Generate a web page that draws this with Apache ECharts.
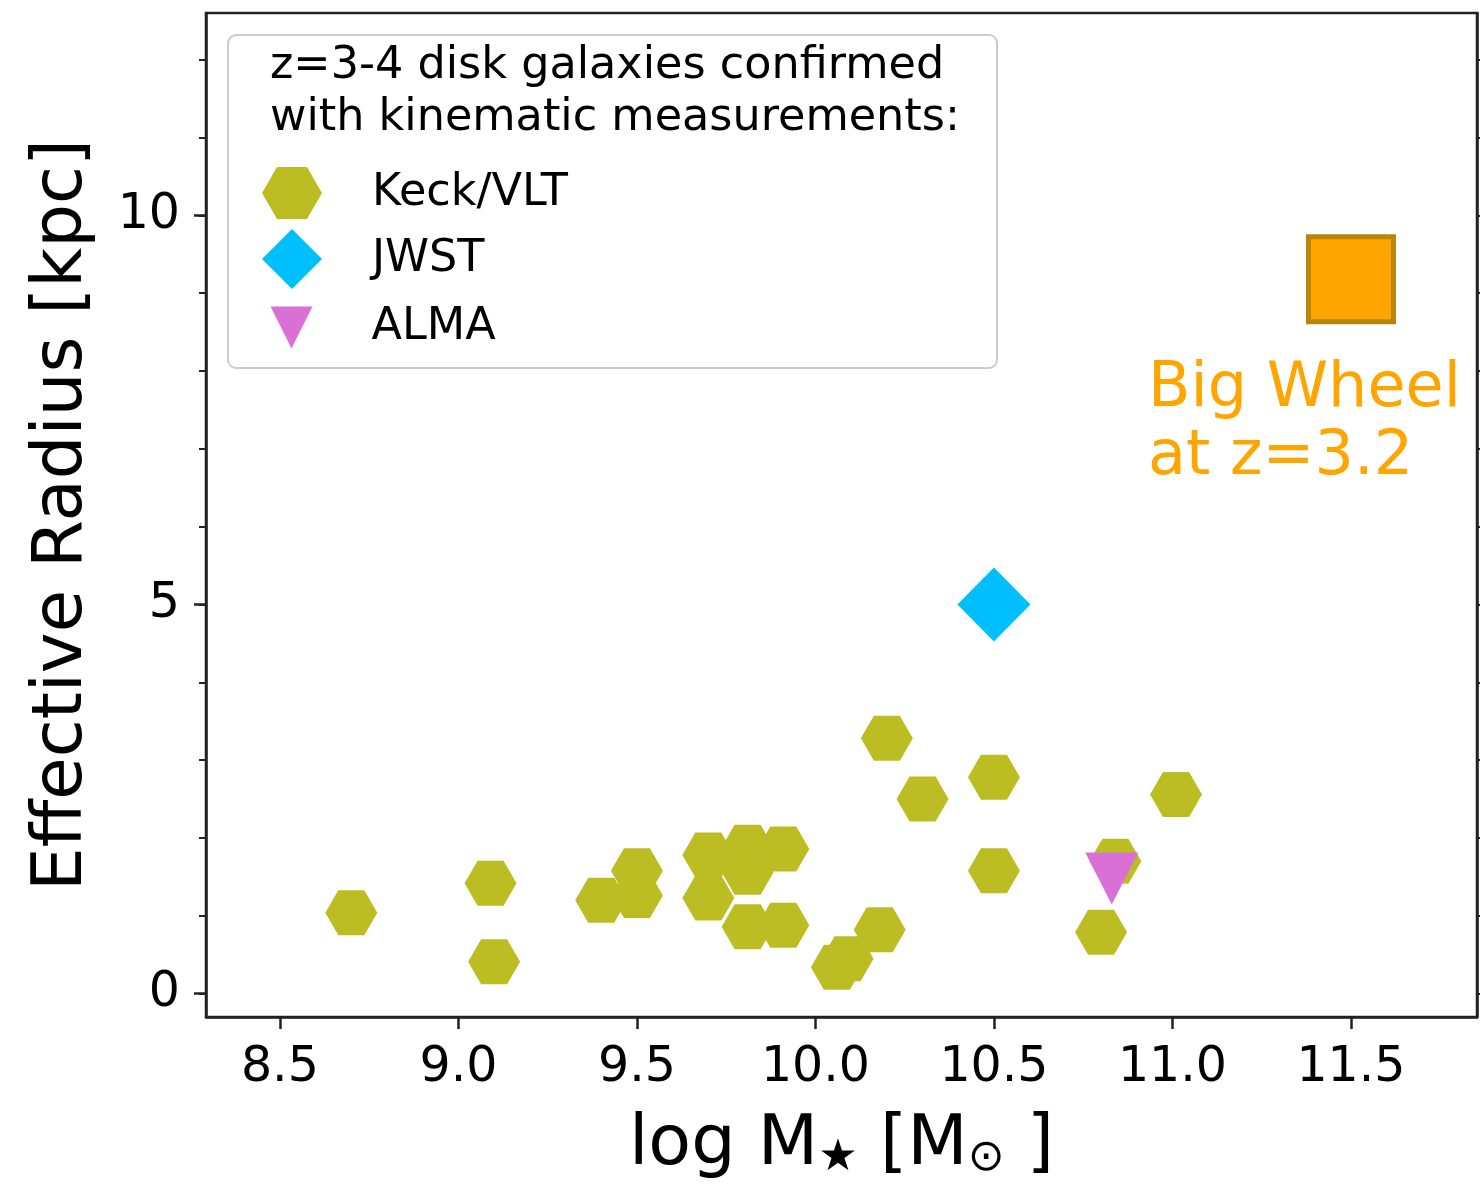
<!DOCTYPE html>
<html>
<head>
<meta charset="utf-8">
<script src="https://cdn.jsdelivr.net/npm/echarts@6/dist/echarts.min.js"></script>
<style>
  html, body { margin: 0; padding: 0; background: #ffffff; }
  #chart { width: 1480px; height: 1187px; }
</style>
</head>
<body>
<div id="chart"></div>
<script>
// Stellar mass (log M*) and effective radius (kpc) of z=3-4 kinematically confirmed disks
const keckMass   = [8.70, 9.09, 9.10, 9.40, 9.50, 9.50, 9.70, 9.70, 9.81, 9.81, 9.81, 9.91, 9.91,
                    10.06, 10.09, 10.18, 10.20, 10.30, 10.50, 10.50, 10.80, 10.84, 11.01];
const keckRadius = [1.04, 1.42, 0.41, 1.20, 1.58, 1.26, 1.78, 1.23, 1.88, 1.56, 0.86, 1.86, 0.88,
                    0.34, 0.45, 0.82, 3.28, 2.50, 2.78, 1.58, 0.79, 1.70, 2.56];
const jwstMass   = [10.50];
const jwstRadius = [5.00];
const almaMass   = [10.83];
const almaRadius = [1.48];
const bigWheelMass   = [11.50];
const bigWheelRadius = [9.18];

const xTickValues = [8.5, 9.0, 9.5, 10.0, 10.5, 11.0, 11.5];
const yMajorTickValues = [0, 5, 10];
const yMinorTickValues = [0, 1, 2, 3, 4, 5, 6, 7, 8, 9, 10, 11, 12];

const seriesNames = ['Keck/VLT', 'JWST', 'ALMA'];
const legendTitle = 'z=3-4 disk galaxies confirmed\nwith kinematic measurements:';
const bigWheelLabel = 'Big Wheel\nat z=3.2';

const pairs = (xs, ys) => xs.map((x, i) => [x, ys[i]]);

const FONT = 'DejaVu Sans';
const INK = '#222222';

// marker outlines
const hexPath = 'path://M0,0.866 L0.5,0 L1.5,0 L2,0.866 L1.5,1.732 L0.5,1.732 Z';
const diamondPath = 'path://M1,0 L2,1 L1,2 L0,1 Z';
const triDownPath = 'path://M0,0 L2,0 L1,2 Z';

const X_MIN = 8.293, X_MAX = 11.853;
const Y_MIN = -0.3, Y_MAX = 12.6;

// legend rows: icon centred on a shared column, labels starting on a shared column
const LEGEND_ICON_CX = 292;
const LEGEND_TEXT_X = 372;
function legendRow(name, icon, w, h, centerY) {
  const left = LEGEND_ICON_CX - w / 2;
  return {
    orient: 'vertical',
    left: left - 5,
    top: centerY - h / 2 - 5,
    padding: 5,
    itemWidth: w,
    itemHeight: h,
    selectedMode: false,
    textStyle: {
      fontFamily: FONT, fontSize: 44.5, color: '#000000',
      padding: [6, 0, 0, LEGEND_TEXT_X - (left + w) - 5]
    },
    data: [{ name: name, icon: icon }]
  };
}

const chart = echarts.init(document.getElementById('chart'), null, { renderer: 'canvas' });

const option = {
  backgroundColor: '#ffffff',
  animation: false,
  grid: {
    left: 206, right: 3, top: 13, bottom: 170,
    show: true, borderColor: INK, borderWidth: 2.5, backgroundColor: 'transparent',
    outerBoundsMode: 'none'
  },
  xAxis: {
    type: 'value',
    min: X_MIN, max: X_MAX,
    splitLine: { show: false },
    axisLine: { show: true, onZero: false, lineStyle: { color: INK, width: 2.5 } },
    axisTick: { show: true, customValues: xTickValues, length: 12, lineStyle: { color: INK, width: 2.5 } },
    axisLabel: {
      customValues: xTickValues,
      formatter: v => Number(v).toFixed(1),
      fontFamily: FONT, fontSize: 49, color: '#000000', margin: 27
    },
    name: '{m|log M}{s|★}{m| [M}{s|⊙}{m| ]}',
    nameLocation: 'middle',
    nameGap: 94,
    nameTextStyle: {
      fontFamily: FONT, fontSize: 70, color: '#000000',
      rich: {
        m: { fontFamily: FONT, fontSize: 70, lineHeight: 70, color: '#000000' },
        s: { fontFamily: FONT, fontSize: 44, lineHeight: 30, verticalAlign: 'bottom', color: '#000000' }
      }
    }
  },
  yAxis: [
    {
      type: 'value', position: 'left',
      min: Y_MIN, max: Y_MAX,
      splitLine: { show: false },
      axisLine: { show: true, onZero: false, lineStyle: { color: INK, width: 2.5 } },
      axisTick: { show: true, customValues: yMajorTickValues, length: 12, lineStyle: { color: INK, width: 2.5 } },
      axisLabel: {
        customValues: yMajorTickValues,
        fontFamily: FONT, fontSize: 49, color: '#000000', margin: 26
      },
      name: 'Effective Radius [kpc]',
      nameLocation: 'middle',
      nameRotate: 90,
      nameGap: 108,
      nameTextStyle: { fontFamily: FONT, fontSize: 69, color: '#000000' }
    },
    {
      // minor ticks on the left spine
      type: 'value', position: 'left',
      min: Y_MIN, max: Y_MAX,
      splitLine: { show: false },
      axisLine: { show: false, onZero: false },
      axisTick: { show: true, customValues: yMinorTickValues, length: 7, lineStyle: { color: INK, width: 2 } },
      axisLabel: { show: false }
    },
    {
      // mirrored ticks on the right spine
      type: 'value', position: 'right',
      min: Y_MIN, max: Y_MAX,
      splitLine: { show: false },
      axisLine: { show: true, onZero: false, lineStyle: { color: INK, width: 2.5 } },
      axisTick: { show: true, customValues: yMinorTickValues, length: 7, lineStyle: { color: INK, width: 2 } },
      axisLabel: { show: false }
    }
  ],
  legend: [
    legendRow(seriesNames[0], hexPath, 60, 52, 193),
    legendRow(seriesNames[1], diamondPath, 60, 60, 259),
    legendRow(seriesNames[2], triDownPath, 43, 42, 326)
  ],
  graphic: [
    {
      type: 'rect', z: 3, silent: true,
      shape: { x: 228, y: 35, width: 769, height: 333, r: 8 },
      style: { fill: 'rgba(255,255,255,0.85)', stroke: '#cccccc', lineWidth: 2 }
    },
    {
      type: 'text', z: 4, silent: true,
      x: 270, y: 40,
      style: {
        text: legendTitle,
        font: '44.5px "DejaVu Sans"',
        fill: '#000000',
        lineHeight: 52,
        align: 'left',
        verticalAlign: 'top'
      }
    }
  ],
  series: [
    {
      name: seriesNames[0], type: 'scatter',
      data: pairs(keckMass, keckRadius),
      symbol: hexPath, symbolSize: [52, 45],
      itemStyle: { color: '#bcbd22', opacity: 1 },
      emphasis: { disabled: true }
    },
    {
      name: seriesNames[1], type: 'scatter',
      data: pairs(jwstMass, jwstRadius),
      symbol: diamondPath, symbolSize: [73, 74],
      itemStyle: { color: '#00bfff', opacity: 1 },
      emphasis: { disabled: true }
    },
    {
      name: seriesNames[2], type: 'scatter',
      data: pairs(almaMass, almaRadius),
      symbol: triDownPath, symbolSize: [53, 52],
      itemStyle: { color: '#da70d6', opacity: 1 },
      emphasis: { disabled: true }
    },
    {
      name: 'Big Wheel', type: 'scatter',
      data: pairs(bigWheelMass, bigWheelRadius),
      symbol: 'rect', symbolSize: 85,
      itemStyle: { color: '#ffa500', borderColor: '#b8860b', borderWidth: 5, opacity: 1 },
      label: {
        show: true,
        formatter: bigWheelLabel,
        position: [-158, 122],
        align: 'left',
        verticalAlign: 'top',
        fontFamily: FONT,
        fontSize: 62,
        lineHeight: 68,
        color: '#ffa500'
      },
      emphasis: { disabled: true }
    }
  ]
};

chart.setOption(option);
</script>
</body>
</html>
